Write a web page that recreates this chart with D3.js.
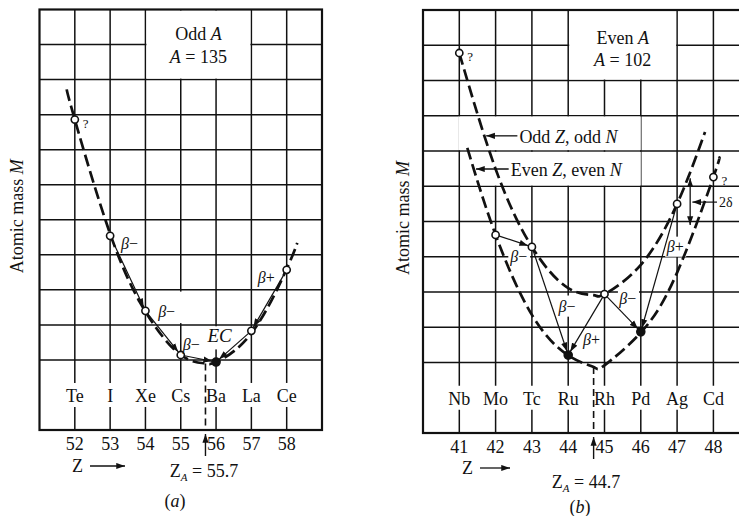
<!DOCTYPE html>
<html>
<head>
<meta charset="utf-8">
<script src="https://cdn.jsdelivr.net/npm/d3@7"></script>
<style>
    body { margin: 0; background: #fff; }
    text { font-family: "Liberation Serif", "DejaVu Serif", serif; fill: #111; }
</style>
</head>
<body>
<div id="fig"></div>
<script>
// ---- panel (a): odd A = 135 ----
const zA = [52, 53, 54, 55, 56, 57, 58];
const elemA = ["Te", "I", "Xe", "Cs", "Ba", "La", "Ce"];
const massA = [8.86, 5.54, 3.40, 2.14, 1.94, 2.83, 4.57];   // in grid units
const stableA = ["Ba"];
const curveAZ = [51.77, 52, 53, 54, 55, 55.7, 56, 57, 58, 58.3];
const curveAM = [9.72, 8.86, 5.60, 3.38, 2.14, 1.90, 1.94, 2.76, 4.60, 5.34];
const decayA = [["I", "Xe", "β−"], ["Xe", "Cs", "β−"], ["Cs", "Ba", "β−"], ["Ce", "La", "β+"], ["La", "Ba", "EC"]];
const unknownA = ["Te"];
const zaA = 55.7;

// ---- panel (b): even A = 102 ----
const zB = [41, 42, 43, 44, 45, 46, 47, 48];
const elemB = ["Nb", "Mo", "Tc", "Ru", "Rh", "Pd", "Ag", "Cd"];
const massB = [10.78, 5.62, 5.28, 2.21, 3.94, 2.87, 6.50, 7.26];
const stableB = ["Ru", "Pd"];
const oddCurveZ = [41, 42, 43, 44, 44.7, 45, 46, 47, 47.77];
const oddCurveM = [10.78, 7.49, 5.28, 4.11, 3.91, 3.94, 4.77, 6.50, 8.54];
const evenCurveZ = [41.22, 42, 43, 44, 44.7, 45, 46, 47, 48, 48.15];
const evenCurveM = [8.09, 5.62, 3.35, 2.20, 1.87, 1.92, 2.85, 4.55, 7.26, 7.80];
const decayB = [["Mo", "Tc", "β−"], ["Tc", "Ru", "β−"], ["Rh", "Ru", "β+"], ["Rh", "Pd", "β−"], ["Ag", "Pd", "β+"]];
const unknownB = ["Nb", "Cd"];
const zaB = 44.7;

const W = 739, H = 516;
const INK = "#111";

const svg = d3.select("#fig").append("svg")
    .attr("width", W)
    .attr("height", H);

svg.append("defs").append("marker")
    .attr("id", "head")
    .attr("viewBox", "0 -4 10 8")
    .attr("refX", 10).attr("refY", 0)
    .attr("markerWidth", 9).attr("markerHeight", 7)
    .attr("markerUnits", "userSpaceOnUse")
    .attr("orient", "auto-start-reverse")
    .append("path")
    .attr("d", "M0,-3.5L10,0L0,3.5Z")
    .attr("fill", INK);

const panels = [
    {
        x: d3.scaleLinear().domain([51, 59]).range([39.5, 322]),
        y: d3.scaleLinear().domain([0, 12]).range([430, 9.5]),
        z: zA, elem: elemA, mass: massA, stable: stableA, unknown: unknownA,
        curves: [d3.zip(curveAZ, curveAM)], decays: decayA, za: zaA,
        zaMin: curveAM[curveAZ.indexOf(zaA)],
        title: ["Odd", "135"], titleBox: [54, 57, 10, 12], titleY: [40, 63],
        // white patches behind labels [z0, z1, m0, m1]
        cuts: [[54.2, 55.15, 3.05, 3.95], [55.05, 56.95, 2.3, 2.96]],
        labelAt: [[53.55, 5.3], [54.6, 3.38], [55.3, 2.42], [57.42, 4.35], [56.1, 2.65]],
        yLabelX: 23, zText: [72, 472, 90, 125, 466], zaText: [204, 477], letter: ["a", 175, 507]
    },
    {
        x: d3.scaleLinear().domain([40, 49]).range([423, 749.7]),
        y: d3.scaleLinear().domain([0, 12]).range([433, 10]),
        z: zB, elem: elemB, mass: massB, stable: stableB, unknown: unknownB,
        curves: [d3.zip(oddCurveZ, oddCurveM), d3.zip(evenCurveZ, evenCurveM)], decays: decayB, za: zaB,
        zaMin: evenCurveM[evenCurveZ.indexOf(zaB)],
        title: ["Even", "102"], titleBox: [44, 47, 10, 12], titleY: [43.5, 66],
        cuts: [[40.97, 46, 8.025, 8.98], [41.03, 46, 7.02, 7.975],
               [42.35, 42.95, 4.72, 5.27], [43.67, 44.28, 3.3, 3.9], [44.38, 44.9, 2.37, 2.9],
               [45.37, 45.95, 3.52, 4.12], [46.67, 47.25, 5.0, 5.57]],
        labelAt: [[42.64, 4.99], [43.97, 3.57], [44.64, 2.64], [45.64, 3.80], [46.95, 5.28]],
        yLabelX: 409, zText: [462, 474, 480, 510, 468], zaText: [586, 488], letter: ["b", 580, 513]
    }
];

function drawPanel(p) {
    const g = svg.append("g");
    const x = p.x, y = p.y;
    const [zLo, zHi] = x.domain();
    const pos = {};
    p.elem.forEach((e, i) => pos[e] = [x(p.z[i]), y(p.mass[i])]);

    // grid
    g.selectAll("line.h").data(d3.range(2, 12)).enter().append("line")
        .attr("x1", x(zLo)).attr("x2", x(zHi))
        .attr("y1", d => y(d)).attr("y2", d => y(d))
        .attr("stroke", INK).attr("stroke-width", 1.5);
    g.selectAll("line.v").data(p.z).enter().append("line")
        .attr("x1", d => x(d)).attr("x2", d => x(d))
        .attr("y1", y(12)).attr("y2", y(2))
        .attr("stroke", INK).attr("stroke-width", 1.5);
    // short ticks above and below the element symbols
    [[y(2), y(1) - 12], [y(1) + 12, y(0)]].forEach(function(seg) {
        g.selectAll(null).data(p.z).enter().append("line")
            .attr("x1", d => x(d)).attr("x2", d => x(d))
            .attr("y1", seg[0]).attr("y2", seg[1])
            .attr("stroke", INK).attr("stroke-width", 1.5);
    });

    // white patches: title box and label cut-outs
    const tb = p.titleBox;
    g.append("rect")
        .attr("x", x(tb[0]) + 1).attr("y", y(tb[3]) + 1)
        .attr("width", x(tb[1]) - x(tb[0]) - 2).attr("height", y(tb[2]) - y(tb[3]) - 2)
        .attr("fill", "#fff");
    g.selectAll("rect.cut").data(p.cuts).enter().append("rect")
        .attr("x", d => x(d[0])).attr("y", d => y(d[3]))
        .attr("width", d => x(d[1]) - x(d[0])).attr("height", d => y(d[2]) - y(d[3]))
        .attr("fill", "#fff");

    g.append("rect")
        .attr("x", x(zLo)).attr("y", y(12))
        .attr("width", x(zHi) - x(zLo)).attr("height", y(0) - y(12))
        .attr("fill", "none").attr("stroke", INK).attr("stroke-width", 2.2);

    // mass parabolas
    const line = d3.line().x(d => x(d[0])).y(d => y(d[1])).curve(d3.curveNatural);
    g.selectAll("path.curve").data(p.curves).enter().append("path")
        .attr("d", line)
        .attr("fill", "none").attr("stroke", INK)
        .attr("stroke-width", 2.7).attr("stroke-dasharray", "12,5");

    // Z_A marker
    g.append("line")
        .attr("x1", x(p.za)).attr("x2", x(p.za))
        .attr("y1", y(p.zaMin)).attr("y2", y(0))
        .attr("stroke", INK).attr("stroke-width", 1.6).attr("stroke-dasharray", "7,4");
    g.append("line")
        .attr("x1", x(p.za)).attr("x2", x(p.za))
        .attr("y1", y(0) + 26).attr("y2", y(0) + 4)
        .attr("stroke", INK).attr("stroke-width", 1.4).attr("marker-end", "url(#head)");

    // decay arrows
    g.selectAll("line.decay").data(p.decays).enter().append("line")
        .each(function(d) {
            const a = pos[d[0]], b = pos[d[1]];
            const len = Math.hypot(b[0] - a[0], b[1] - a[1]);
            const k = (len - 4) / len;
            d3.select(this)
                .attr("x1", a[0]).attr("y1", a[1])
                .attr("x2", a[0] + (b[0] - a[0]) * k).attr("y2", a[1] + (b[1] - a[1]) * k);
        })
        .attr("stroke", INK).attr("stroke-width", 1.2).attr("marker-end", "url(#head)");

    // nuclides
    g.selectAll("circle").data(p.elem).enter().append("circle")
        .attr("cx", d => pos[d][0]).attr("cy", d => pos[d][1])
        .attr("r", d => p.stable.includes(d) ? 4 : 3.6)
        .attr("fill", d => p.stable.includes(d) ? INK : "#fff")
        .attr("stroke", INK).attr("stroke-width", 1.6);
    g.selectAll("text.q").data(p.unknown).enter().append("text")
        .attr("x", d => pos[d][0] + 8).attr("y", d => pos[d][1] + 8)
        .attr("font-size", 13).text("?");

    // decay labels
    g.selectAll("text.decay").data(p.decays).enter().append("text")
        .attr("x", (d, i) => x(p.labelAt[i][0])).attr("y", (d, i) => y(p.labelAt[i][1]) + 5)
        .attr("text-anchor", "middle")
        .each(function(d) {
            const t = d3.select(this);
            if (d[2] === "EC") {
                t.attr("font-size", 19).style("font-style", "italic").text("EC");
            } else {
                t.attr("font-size", 16);
                t.append("tspan").style("font-style", "italic").text(d[2][0]);
                t.append("tspan").text(d[2].slice(1));
            }
        });

    // element symbols and Z numbers
    g.selectAll("text.el").data(p.elem).enter().append("text")
        .attr("x", (d, i) => x(p.z[i])).attr("y", y(1) + 7)
        .attr("text-anchor", "middle").attr("font-size", 18).text(d => d);
    g.selectAll("text.z").data(p.z).enter().append("text")
        .attr("x", d => x(d)).attr("y", y(0) + 20)
        .attr("text-anchor", "middle").attr("font-size", 18).text(d => d);

    // title box text
    const cx = (x(tb[0]) + x(tb[1])) / 2;
    const t1 = g.append("text").attr("x", cx).attr("y", p.titleY[0])
        .attr("text-anchor", "middle").attr("font-size", 18);
    t1.append("tspan").text(p.title[0] + " ");
    t1.append("tspan").style("font-style", "italic").text("A");
    const t2 = g.append("text").attr("x", cx).attr("y", p.titleY[1])
        .attr("text-anchor", "middle").attr("font-size", 18);
    t2.append("tspan").style("font-style", "italic").text("A");
    t2.append("tspan").text(" = " + p.title[1]);

    // axis titles
    const yl = g.append("text")
        .attr("transform", "translate(" + p.yLabelX + "," + y(6.1) + ") rotate(-90)")
        .attr("text-anchor", "middle").attr("font-size", 18);
    yl.append("tspan").text("Atomic mass ");
    yl.append("tspan").style("font-style", "italic").text("M");

    const zt = p.zText;
    g.append("text").attr("x", zt[0]).attr("y", zt[1]).attr("font-size", 18).text("Z");
    g.append("line")
        .attr("x1", zt[2]).attr("x2", zt[3]).attr("y1", zt[4]).attr("y2", zt[4])
        .attr("stroke", INK).attr("stroke-width", 1.3).attr("marker-end", "url(#head)");

    const zl = g.append("text").attr("x", p.zaText[0]).attr("y", p.zaText[1])
        .attr("text-anchor", "middle").attr("font-size", 18);
    zl.append("tspan").text("Z");
    zl.append("tspan").attr("font-size", 11).attr("dy", 4).style("font-style", "italic").text("A");
    zl.append("tspan").attr("dy", -4).text(" = " + p.za);

    const lt = g.append("text").attr("x", p.letter[1]).attr("y", p.letter[2])
        .attr("text-anchor", "middle").attr("font-size", 18);
    lt.append("tspan").text("(");
    lt.append("tspan").style("font-style", "italic").text(p.letter[0]);
    lt.append("tspan").text(")");

    return g;
}

panels.forEach(drawPanel);

// legend and 2δ note, panel (b)
(function() {
    const p = panels[1], x = p.x, y = p.y;
    const g = svg.append("g");
    const legend = [["Odd", "odd", 42.6, 41.74, 8.43], ["Even", "even", 42.36, 41.46, 7.49]];
    legend.forEach(function(d) {
        g.append("line")
            .attr("x1", x(d[2])).attr("x2", x(d[3])).attr("y1", y(d[4])).attr("y2", y(d[4]))
            .attr("stroke", INK).attr("stroke-width", 1.3).attr("marker-end", "url(#head)");
        const t = g.append("text").attr("x", x(d[2]) + 2).attr("y", y(d[4]) + 7).attr("font-size", 18);
        t.append("tspan").text(d[0] + " ");
        t.append("tspan").style("font-style", "italic").text("Z");
        t.append("tspan").text(", " + d[1] + " ");
        t.append("tspan").style("font-style", "italic").text("N");
    });
    // 2δ gap between the two parabolas
    g.append("line")
        .attr("x1", x(47.36)).attr("x2", x(47.36)).attr("y1", y(5.9)).attr("y2", y(7.23))
        .attr("stroke", INK).attr("stroke-width", 1.3)
        .attr("marker-start", "url(#head)").attr("marker-end", "url(#head)");
    g.append("line")
        .attr("x1", x(48.1)).attr("x2", x(47.42)).attr("y1", y(6.55)).attr("y2", y(6.55))
        .attr("stroke", INK).attr("stroke-width", 1.2).attr("marker-end", "url(#head)");
    g.append("text").attr("x", x(48.1) + 2).attr("y", y(6.55) + 5)
        .attr("font-size", 14).text("2δ");
})();
</script>
</body>
</html>
